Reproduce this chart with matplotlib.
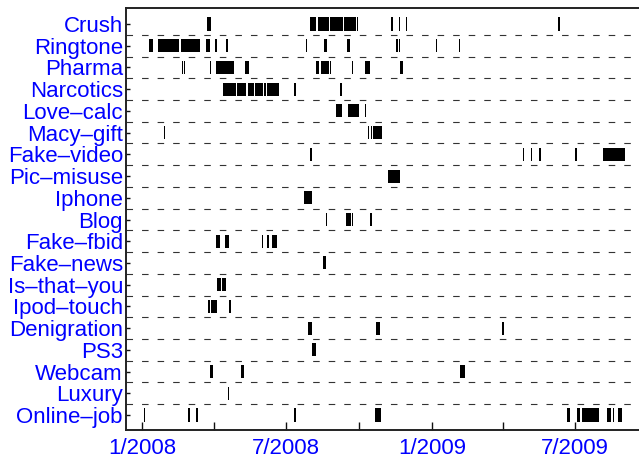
import numpy as np
import matplotlib
matplotlib.use('Agg')
import matplotlib.pyplot as plt
import matplotlib.dates as mdates

plt.rcParams['lines.scale_dashes'] = False

categories = ['Crush', 'Ringtone', 'Pharma', 'Narcotics', 'Love\u2013calc', 'Macy\u2013gift',
              'Fake\u2013video', 'Pic\u2013misuse', 'Iphone', 'Blog', 'Fake\u2013fbid',
              'Fake\u2013news', 'Is\u2013that\u2013you', 'Ipod\u2013touch', 'Denigration',
              'PS3', 'Webcam', 'Luxury', 'Online\u2013job']

# activity spans: (start day counted from 2008-01-01, duration in days)
crush = [(82, 5), (212, 8), (222, 14), (237, 17), (255, 15), (271, 2),
         (315, 2), (324, 2), (333, 2), (526, 2)]
ringtone = [(9, 5), (20, 27), (49, 24), (80, 5), (92, 2), (106, 2), (207, 1),
            (209, 1), (230, 4), (259, 3), (321, 2), (324, 2), (371, 2), (400, 2)]
pharma = [(50, 1), (53, 1), (75, 1), (86, 1), (93, 1), (95, 21), (130, 5),
          (219, 5), (226, 10), (237, 1), (265, 2), (282, 6), (326, 3)]
narcotics = [(102, 17), (120, 11), (133, 8), (143, 9), (154, 2), (158, 3),
             (162, 11), (192, 2), (250, 2)]
love_calc = [(245, 8), (260, 14), (281, 2)]
macy_gift = [(27, 2), (285, 2), (289, 2), (292, 11)]
fake_video = [(212, 2), (481, 2), (491, 2), (502, 2), (547, 2), (582, 28)]
pic_misuse = [(311, 15)]
iphone = [(204, 11)]
blog = [(232, 2), (258, 6), (265, 2), (288, 2)]
fake_fbid = [(93, 5), (105, 5), (151, 2), (158, 2), (164, 6)]
fake_news = [(229, 3)]
is_that_you = [(95, 4), (101, 5)]
ipod_touch = [(83, 3), (87, 8), (110, 2)]
denigration = [(210, 4), (296, 4), (455, 2)]
ps3 = [(214, 5)]
webcam = [(86, 3), (125, 3), (402, 6)]
luxury = [(108, 2)]
online_job = [(2, 2), (58, 2), (68, 2), (192, 2), (294, 8), (537, 4), (549, 5),
              (556, 7), (564, 14), (588, 5), (595, 2), (602, 4)]

spans = [crush, ringtone, pharma, narcotics, love_calc, macy_gift, fake_video,
         pic_misuse, iphone, blog, fake_fbid, fake_news, is_that_you, ipod_touch,
         denigration, ps3, webcam, luxury, online_job]

tick_dates = ['2008-01-01', '2008-04-01', '2008-07-01', '2008-10-01',
              '2009-01-01', '2009-04-01', '2009-07-01']
tick_labels = ['1/2008', '', '7/2008', '', '1/2009', '', '7/2009']

base = np.datetime64('2008-01-01')
W, H = 639, 458
fig = plt.figure(figsize=(W / 100, H / 100), dpi=100)
left_px, top_px, bottom_px = 125.7, 8.3, 430.0
ax = fig.add_axes([left_px / W, (H - bottom_px) / H, 1 - left_px / W,
                   (bottom_px - top_px) / H])

for i, sp in enumerate(spans):
    row = i + 1
    xr = [(mdates.date2num(base + np.timedelta64(s, 'D')), w) for s, w in sp]
    ax.broken_barh(xr, (row - 0.3, 0.6), facecolors='black', edgecolors='none',
                   zorder=3)

for k in range(len(categories) - 1):
    ax.axhline(k + 1.5, color='#333333', lw=0.8, linestyle=(0, (4.7, 6.5)), zorder=2)

ax.set_xlim(mdates.date2num(np.datetime64('2007-12-11')),
            mdates.date2num(np.datetime64('2009-09-20')))
ax.set_ylim(19.69, 0.277)

ax.set_yticks(np.arange(1, len(categories) + 1))
ax.set_yticklabels(categories, color='#0000FF', fontsize=16,
                   fontfamily='Liberation Sans')
ax.set_xticks([mdates.date2num(np.datetime64(d)) for d in tick_dates])
ax.set_xticklabels(tick_labels, color='#0000FF', fontsize=16,
                   fontfamily='Liberation Sans')

ax.tick_params(axis='x', direction='in', length=6, width=1.0, pad=6, color='#111111')
ax.tick_params(axis='y', direction='in', length=3, width=1.0, pad=2, color='#111111')

for s in ['top', 'left', 'bottom']:
    ax.spines[s].set_linewidth(1.4)
    ax.spines[s].set_color('#222222')
ax.spines['right'].set_visible(False)

fig.savefig('out.png', dpi=100)
